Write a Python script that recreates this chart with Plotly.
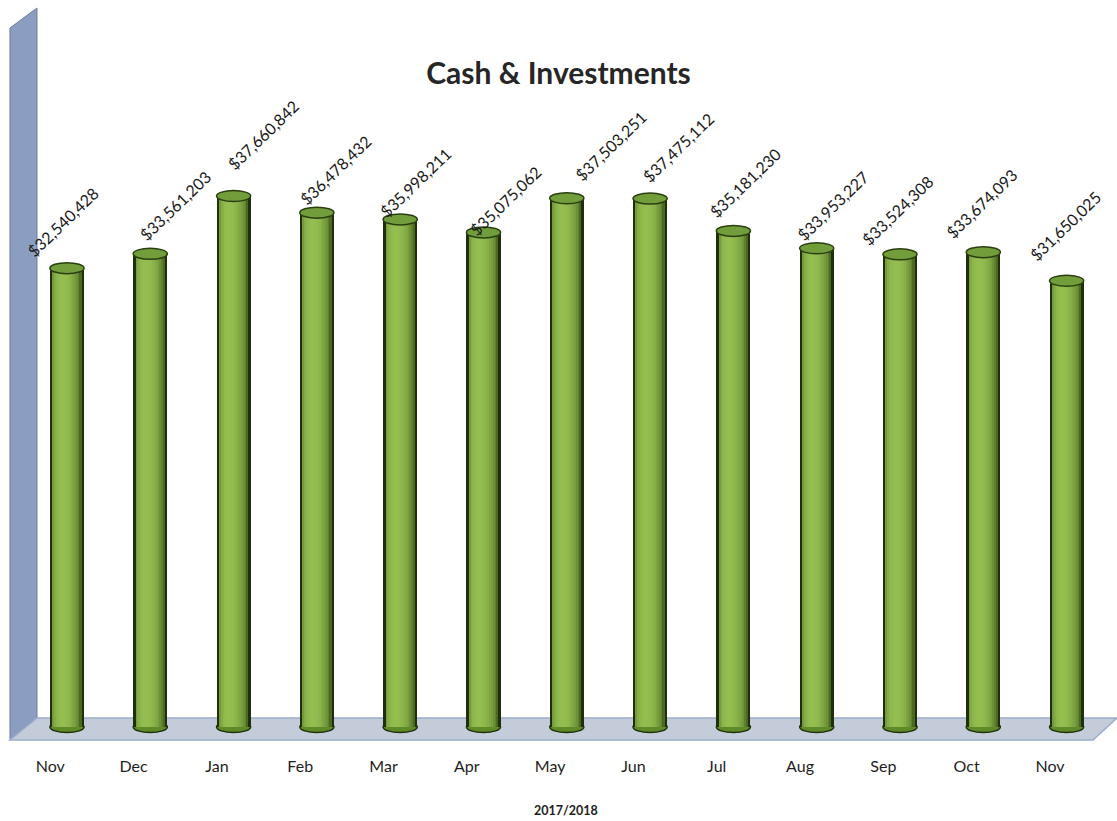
import math
import plotly.graph_objects as go

# ---- data -------------------------------------------------------------
months = ["Nov", "Dec", "Jan", "Feb", "Mar", "Apr", "May",
          "Jun", "Jul", "Aug", "Sep", "Oct", "Nov"]
balances = [32540428, 33561203, 37660842, 36478432, 35998211, 35075062,
            37503251, 37475112, 35181230, 33953227, 33524308, 33674093,
            31650025]
period_label = "2017/2018"
chart_title = "Cash & Investments"

# ---- layout constants -------------------------------------------------
W, H = 1117, 821
M_L, M_R, M_T, M_B = 0, 0, 22, 80
X_RANGE = [-0.804, 12.605]
Y_RANGE = [-0.993e6, 50.0e6]
BAR_W = 0.41
TICK_SHIFT = -0.2          # category labels sit slightly left of the bars (perspective)
FONT = "Lato"

plot_w = W - M_L - M_R
plot_h = H - M_T - M_B
y_per_px = (Y_RANGE[1] - Y_RANGE[0]) / plot_h
cap_h = 11 * y_per_px          # ellipse height of the cylinder ends

# pixel nudges (dx, dy) for each rotated value label, relative to the bar top
label_nudge = [(-4, 47), (25, 48), (30, 61), (19, 43), (15, 37), (22, 32),
               (44, 53), (28, 51), (12, 48), (16, 43), (-3, 44), (-2, 49),
               (-1, 55)]


def paper(px, py):
    """Convert a page pixel position to paper coordinates."""
    return (px - M_L) / plot_w, (H - M_B - py) / plot_h


def path(points):
    pts = [paper(*p) for p in points]
    return "M " + " L ".join(f"{x:.5f},{y:.5f}" for x, y in pts) + " Z"


def mix(c1, c2, t):
    t = max(0.0, min(1.0, t))
    return "rgb({},{},{})".format(*[round(a + (b - a) * t) for a, b in zip(c1, c2)])


x_idx = list(range(len(balances)))
fig = go.Figure()

# dark outline of each cylinder
fig.add_trace(go.Bar(
    x=x_idx, y=balances, width=BAR_W, offset=-BAR_W / 2,
    marker=dict(color="#1f2f0c", line=dict(width=0)),
    hoverinfo="skip", showlegend=False,
))

# shaded vertical strips give the rounded cylinder look
DARK = (48, 76, 18)
LIGHT = (148, 190, 80)
N = 16
inner = BAR_W * 0.86
strip = inner / N
for k in range(N):
    t = -1 + (2 * k + 1) / N                     # -1 (left) .. 1 (right)
    theta = math.asin(max(-1, min(1, t)))
    light = 0.22 + 0.78 * max(0.0, math.cos(theta + 0.3))
    w = strip * 1.25 if k < N - 1 else strip
    fig.add_trace(go.Bar(
        x=x_idx, y=balances, width=w, offset=-inner / 2 + k * strip,
        marker=dict(color=mix(DARK, LIGHT, light), line=dict(width=0)),
        hoverinfo="skip", showlegend=False,
    ))

shapes = []
# side wall
shapes.append(dict(type="path", xref="paper", yref="paper", layer="below",
                   path=path([(10, 740), (10, 28), (37, 8), (37, 718)]),
                   fillcolor="#8b9dc0", line=dict(color="#6a7da2", width=1)))
# floor
shapes.append(dict(type="path", xref="paper", yref="paper", layer="below",
                   path=path([(10, 740), (37, 718), (1117, 718), (1093, 740)]),
                   fillcolor="#c4ccda", line=dict(color="#9badcc", width=1.5)))

for i, v in enumerate(balances):
    # bottom end of the cylinder
    shapes.append(dict(type="circle", xref="x", yref="y", layer="below",
                       x0=i - BAR_W / 2, x1=i + BAR_W / 2,
                       y0=-cap_h / 2, y1=cap_h / 2,
                       fillcolor="#5f8a28", line=dict(color="#1f2f0c", width=1.5)))
    # top end of the cylinder
    shapes.append(dict(type="circle", xref="x", yref="y", layer="above",
                       x0=i - BAR_W / 2, x1=i + BAR_W / 2,
                       y0=v - cap_h / 2, y1=v + cap_h / 2,
                       fillcolor="#729d3b", line=dict(color="#2a3f11", width=1.5)))

annotations = []
for i, v in enumerate(balances):
    dx, dy = label_nudge[i]
    annotations.append(dict(
        x=i, y=v, xref="x", yref="y", text=f"${v:,.0f}",
        showarrow=False, textangle=-44, xanchor="center", yanchor="middle",
        xshift=dx, yshift=dy,
        font=dict(family=FONT, size=16, color="#1a1a1a"),
    ))

# period caption under the month labels
cap_x, cap_y = paper(566, 810)
annotations.append(dict(
    x=cap_x, y=cap_y, xref="paper", yref="paper",
    text=period_label, showarrow=False, xanchor="center", yanchor="middle",
    font=dict(family=FONT, size=12.5, color="#1e1e1e", weight="bold"),
))

fig.update_layout(
    width=W, height=H,
    margin=dict(l=M_L, r=M_R, t=M_T, b=M_B, pad=0),
    paper_bgcolor="white", plot_bgcolor="white",
    barmode="overlay", bargap=0,
    showlegend=False,
    title=dict(text=chart_title, x=0.5, xanchor="center",
               y=1 - 73 / H, yanchor="middle",
               font=dict(family=FONT, size=30, color="#262626", weight="bold")),
    xaxis=dict(range=X_RANGE, tickvals=[i + TICK_SHIFT for i in x_idx],
               ticktext=months,
               showgrid=False, zeroline=False, showline=False, ticks="",
               ticklabelstandoff=14,
               tickfont=dict(family=FONT, size=16, color="#1e1e1e"),
               automargin=False, fixedrange=True),
    yaxis=dict(range=Y_RANGE, visible=False, fixedrange=True),
    shapes=shapes,
    annotations=annotations,
)

fig.write_html("out.html")
